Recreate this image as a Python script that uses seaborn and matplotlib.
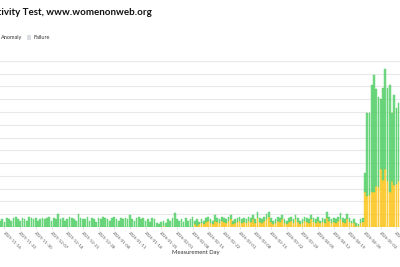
import pandas as pd
import numpy as np
import seaborn as sns
import matplotlib.pyplot as plt
from matplotlib.patches import Patch

# daily measurement counts, 2025-11-14 .. 2026-05-11
start_day = '2025-11-14'
end_day = '2026-05-11'

total = [
    5, 6, 4, 7, 6, 5, 7, 8, 6, 5,
    7, 6, 5, 8, 7, 6, 7, 5, 6, 7,
    6, 7, 8, 5, 7, 6, 10, 6, 7, 5,
    6, 8, 7, 6, 5, 10, 7, 6, 6, 8,
    5, 7, 6, 4, 7, 6, 8, 7, 6, 5,
    7, 8, 6, 5, 7, 6, 7, 6, 9, 6,
    5, 7, 8, 6, 7, 5, 6, 4, 7, 6,
    3, 2, 4, 5, 3, 6, 5, 7, 11, 6,
    5, 6, 4, 7, 5, 6, 8, 5, 6, 4,
    6, 5, 7, 8, 6, 5, 9, 7, 6, 8,
    7, 6, 8, 9, 5, 6, 7, 8, 6, 7,
    6, 8, 7, 9, 6, 12, 7, 6, 8, 10,
    12, 7, 5, 6, 8, 7, 9, 6, 5, 7,
    8, 6, 9, 7, 5, 6, 8, 7, 6, 9,
    7, 6, 8, 5, 7, 6, 12, 8, 6, 7,
    6, 8, 11, 7, 6, 10, 7, 5, 6, 3,
    2, 6, 7,
    42, 89, 89, 111, 119, 108, 102, 100, 109, 124, 109, 111, 89, 103, 93, 97,
]
anomaly = [
    0, 0, 0, 0, 0, 0, 0, 0, 0, 0,
    0, 0, 0, 0, 0, 0, 0, 0, 0, 0,
    0, 0, 0, 0, 0, 0, 0, 0, 0, 0,
    0, 0, 0, 0, 0, 0, 0, 0, 0, 0,
    0, 0, 0, 0, 0, 0, 0, 0, 0, 0,
    0, 0, 0, 0, 0, 0, 0, 0, 0, 0,
    0, 0, 0, 0, 0, 0, 0, 0, 0, 0,
    0, 0, 0, 1, 0, 0, 0, 0, 0, 0,
    0, 0, 0, 0, 0, 0, 0, 2, 1, 2,
    3, 2, 4, 5, 3, 2, 5, 4, 3, 5,
    4, 3, 5, 6, 2, 3, 4, 5, 3, 4,
    3, 5, 4, 6, 3, 7, 4, 3, 5, 6,
    8, 4, 2, 3, 5, 4, 6, 3, 2, 4,
    5, 3, 6, 4, 2, 3, 5, 4, 3, 6,
    4, 3, 5, 3, 4, 3, 7, 5, 3, 4,
    3, 5, 6, 4, 3, 6, 4, 3, 3, 1,
    1, 3, 4,
    27, 24, 25, 27, 27, 32, 31, 45, 37, 45, 36, 27, 36, 33, 34, 36,
]
tick_labels = [
    '2025-11-16', '2025-11-23', '2025-11-30', '2025-12-07', '2025-12-14',
    '2025-12-21', '2025-12-28', '2026-01-04', '2026-01-11', '2026-01-18',
    '2026-01-25', '2026-02-01', '2026-02-08', '2026-02-15', '2026-02-22',
    '2026-03-01', '2026-03-08', '2026-03-15', '2026-03-22', '2026-03-29',
    '2026-04-05', '2026-04-12', '2026-04-19', '2026-04-26', '2026-05-03',
    '2026-05-10',
]
legend_labels = ['OK', 'Confirmed', 'Anomaly', 'Failure']
colors = {'OK': '#51cf66', 'Confirmed': '#f03e3e', 'Anomaly': '#fcc419', 'Failure': '#ced4da'}

days = pd.date_range(start_day, end_day, freq='D')
total = np.array(total)
anomaly = np.array(anomaly)
ok = total - anomaly

df = pd.concat([
    pd.DataFrame({'day': np.arange(len(days)), 'status': 'OK', 'count': ok}),
    pd.DataFrame({'day': np.arange(len(days)), 'status': 'Anomaly', 'count': anomaly}),
])

sns.set_theme(style='white')
plt.rcParams['font.family'] = ['Lato', 'DejaVu Sans']

fig = plt.figure(figsize=(4, 2.67), dpi=100)
ax = fig.add_axes([0, 0.15, 1, 0.622])

# first hue level is stacked on top
sns.histplot(data=df, x='day', weights='count', hue='status',
             hue_order=['OK', 'Anomaly'], palette=colors,
             multiple='stack', discrete=True, shrink=0.75,
             alpha=0.78, linewidth=0.3, legend=False, ax=ax)
for p in ax.patches:
    fc = p.get_facecolor()
    p.set_edgecolor((fc[0], fc[1], fc[2], 1))

ax.set_xlim(0, 178.6)
ax.set_ylim(0, 130)
ax.set_yticks(np.arange(0, 131, 10))
ax.yaxis.grid(True, color='#e8e8e8', lw=0.8)
ax.set_axisbelow(True)
ax.tick_params(axis='y', length=0, labelleft=False)

tick_pos = [days.get_loc(pd.Timestamp(t)) for t in tick_labels]
ax.set_xticks(tick_pos)
ax.set_xticklabels(tick_labels, rotation=-45, ha='left', va='top',
                   rotation_mode='anchor', fontsize=3.2, color='#555555')
ax.tick_params(axis='x', length=1.5, width=0.5, color='#cccccc', pad=1.2, bottom=True)
ax.set_xlabel('')
ax.set_ylabel('')
sns.despine(ax=ax, left=True, bottom=True)

fig.text(0.49, 0.056, 'Measurement Day', ha='center', va='center',
         fontsize=4.2, color='#333333')
fig.text(0.38, 0.953, 'Web Connectivity Test, www.womenonweb.org',
         ha='right', va='center', fontsize=7, fontweight='bold', color='#111111')

handles = [Patch(facecolor=colors[k], alpha=0.75, edgecolor='none') for k in legend_labels]
fig.legend(handles, legend_labels, loc='center right', bbox_to_anchor=(0.125, 0.858),
           ncol=4, frameon=False, fontsize=4, handlelength=0.8, handleheight=0.8,
           columnspacing=0.8, handletextpad=0.4, borderaxespad=0, borderpad=0,
           labelcolor='#333333')

fig.savefig('out.png', dpi=100)
